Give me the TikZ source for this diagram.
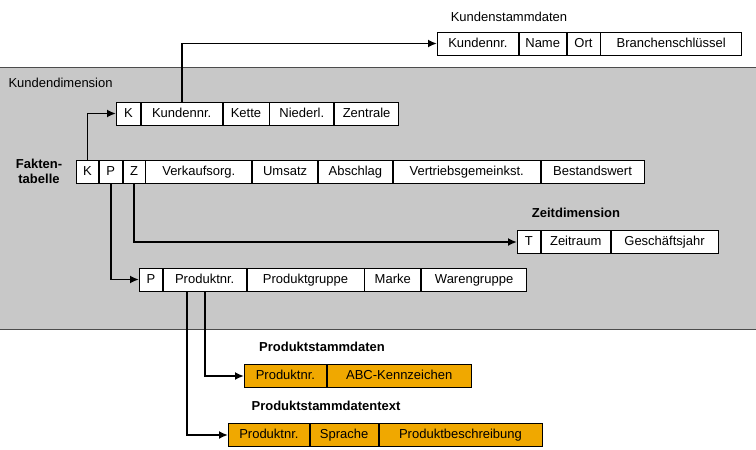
\documentclass[tikz,border=0pt]{standalone}
\usepackage{fontspec}
\setmainfont{Liberation Sans}
\usetikzlibrary{positioning,arrows.meta}
\definecolor{BandGray}{HTML}{C8C8C8}
\definecolor{StammOrange}{HTML}{F0A800}
\tikzset{
    cell/.style = {draw, rectangle, fill=white, inner sep=0pt, line width=0.8pt,
        minimum height=23pt, text height=9.5pt, text depth=2.5pt,
        font=\fontsize{13}{15}\selectfont},
    ocell/.style = {cell, fill=StammOrange},
    title/.style = {font=\fontsize{13}{15}\selectfont},
    btitle/.style = {font=\bfseries\fontsize{13}{15}\selectfont, align=center},
    link/.style = {draw, line width=1.8pt, -{Latex[length=9pt,width=8pt]}}
}
\begin{document}
\begin{tikzpicture}[x=1pt,y=-1pt]
    \useasboundingbox (0,0) rectangle (756,450);
    \fill [BandGray] (0,67) rectangle (756,329);
    \draw [gray!60!black] (0,67) -- (756,67) (0,329) -- (756,329);
    \node [title, anchor=west] at (5,83) (kdtitle) {Kundendimension};
    % Kundenstammdaten
    \node [title] at (509,17) (kstitle) {Kundenstammdaten};
    \node [cell, minimum width=81pt, anchor=west] at (437,43.5) (ksNr) {Kundennr.};
    \node [cell, minimum width=47pt, right=0pt of ksNr] (ksName) {Name};
    \node [cell, minimum width=33pt, right=0pt of ksName] (ksOrt) {Ort};
    \node [cell, minimum width=141pt, right=0pt of ksOrt] (ksBr) {Branchenschlüssel};
    % Kundendimension
    \node [cell, minimum width=24pt, anchor=west] at (116,113.5) (kdK) {K};
    \node [cell, minimum width=81pt, right=0pt of kdK] (kdNr) {Kundennr.};
    \node [cell, minimum width=46pt, right=0pt of kdNr] (kdKette) {Kette};
    \node [cell, minimum width=64pt, right=0pt of kdKette] (kdNdl) {Niederl.};
    \node [cell, minimum width=64pt, right=0pt of kdNdl] (kdZen) {Zentrale};
    % Faktentabelle
    \node [btitle] at (39,171) (fttitle) {Fakten-\\tabelle};
    \node [cell, minimum width=22pt, anchor=west] at (76,171.5) (ftK) {K};
    \node [cell, minimum width=23pt, right=0pt of ftK] (ftP) {P};
    \node [cell, minimum width=22pt, right=0pt of ftP] (ftZ) {Z};
    \node [cell, minimum width=106pt, right=0pt of ftZ] (ftVk) {Verkaufsorg.};
    \node [cell, minimum width=65pt, right=0pt of ftVk] (ftUms) {Umsatz};
    \node [cell, minimum width=74pt, right=0pt of ftUms] (ftAbs) {Abschlag};
    \node [cell, minimum width=147pt, right=0pt of ftAbs] (ftVgk) {Vertriebsgemeinkst.};
    \node [cell, minimum width=103pt, right=0pt of ftVgk] (ftBw) {Bestandswert};
    % Zeitdimension
    \node [btitle] at (576,213) (zdtitle) {Zeitdimension};
    \node [cell, minimum width=23pt, anchor=west] at (517,242) (zdT) {T};
    \node [cell, minimum width=69pt, right=0pt of zdT] (zdRaum) {Zeitraum};
    \node [cell, minimum width=107pt, right=0pt of zdRaum] (zdGj) {Geschäftsjahr};
    % Produktdimension
    \node [cell, minimum width=23pt, anchor=west] at (139,279.5) (pdP) {P};
    \node [cell, minimum width=83pt, right=0pt of pdP] (pdNr) {Produktnr.};
    \node [cell, minimum width=117pt, right=0pt of pdNr] (pdGr) {Produktgruppe};
    \node [cell, minimum width=56pt, right=0pt of pdGr] (pdMarke) {Marke};
    \node [cell, minimum width=105pt, right=0pt of pdMarke] (pdWg) {Warengruppe};
    % Produktstammdaten
    \node [btitle] at (322,347) (pstitle) {Produktstammdaten};
    \node [ocell, minimum width=82pt, anchor=west] at (244,376) (psNr) {Produktnr.};
    \node [ocell, minimum width=144pt, right=0pt of psNr] (psAbc) {ABC-Kennzeichen};
    \node [btitle] at (326,406) (pttitle) {Produktstammdatentext};
    \node [ocell, minimum width=81pt, anchor=west] at (228,435) (ptNr) {Produktnr.};
    \node [ocell, minimum width=68pt, right=0pt of ptNr] (ptSpr) {Sprache};
    \node [ocell, minimum width=163pt, right=0pt of ptSpr] (ptBes) {Produktbeschreibung};
    % Verbindungen
    \draw [link] (kdNr.north) |- (ksNr.west);
    \draw [link] (ftK.north) |- (kdK.west);
    \draw [link] (ftZ.south) |- (zdT.west);
    \draw [link] (ftP.south) |- (pdP.west);
    \draw [link] (pdNr.south) |- (psNr.west);
    \draw [link] ([xshift=-17.5pt]pdNr.south) |- (ptNr.west);
\end{tikzpicture}
\end{document}
